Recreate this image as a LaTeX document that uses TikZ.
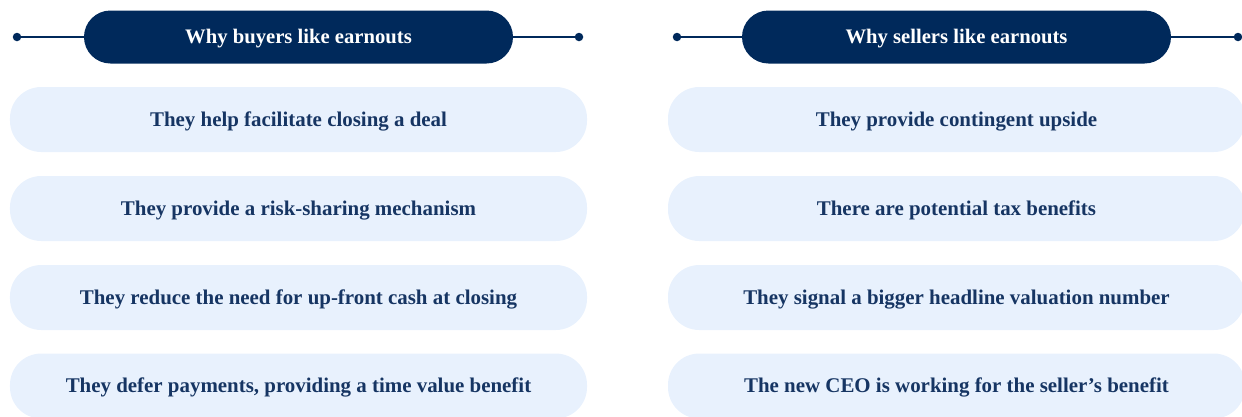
\documentclass[tikz,border=0pt]{standalone}
\usepackage{fontspec}
\setmainfont{Liberation Serif}
\usetikzlibrary{positioning}
\definecolor{blunotte}{HTML}{00295B}
\definecolor{azzurrino}{HTML}{E8F1FD}
\definecolor{inchiostro}{HTML}{163563}

\tikzset{
  testata/.style = {fill = blunotte, text = white, rounded corners = 10.6mm,
    minimum width = 171.6mm, minimum height = 21.2mm, inner sep = 0pt,
    text height = 15.5pt, text depth = 0pt,
    font = \fontsize{23.5}{28}\selectfont\bfseries},
  voce/.style = {fill = azzurrino, text = inchiostro, rounded corners = 12.5mm,
    minimum width = 230.8mm, minimum height = 26mm, inner sep = 0pt,
    text height = 15.7pt, text depth = 0pt,
    font = \fontsize{23.8}{28}\selectfont\bfseries},
  filo/.style = {blunotte, line width = 0.8mm}
}

\begin{document}
\begin{tikzpicture}[x = 0.4mm, y = -0.4mm]
    % Parametri
    \pgfmathsetmacro{\punto}{1.7}
    \pgfmathsetmacro{\xsx}{298.5}
    \pgfmathsetmacro{\xdx}{956.5}
    \pgfmathsetmacro{\yhead}{37}
    \useasboundingbox (0,0) rectangle (1242,416);
    % Estremi dei fili
    \coordinate (pA) at (17,\yhead);
    \coordinate (pB) at (579,\yhead);
    \coordinate (pC) at (677,\yhead);
    \coordinate (pD) at (1238,\yhead);
    % Testate
    \node[testata] (hB) at (\xsx,\yhead) {Why buyers like earnouts};
    \node[testata] (hS) at (\xdx,\yhead) {Why sellers like earnouts};
    \draw[filo] (pA) -- (hB.west);
    \draw[filo] (hB.east) -- (pB);
    \draw[filo] (pC) -- (hS.west);
    \draw[filo] (hS.east) -- (pD);
    \fill[blunotte] (pA) circle (\punto mm);
    \fill[blunotte] (pB) circle (\punto mm);
    \fill[blunotte] (pC) circle (\punto mm);
    \fill[blunotte] (pD) circle (\punto mm);
    % Acquirenti
    \node[voce] (b1) at (\xsx,119.5) {They help facilitate closing a deal};
    \node[voce] (b2) at (\xsx,208.5) {They provide a risk-sharing mechanism};
    \node[voce] (b3) at (\xsx,297.5) {They reduce the need for up-front cash at closing};
    \node[voce] (b4) at (\xsx,386) {They defer payments, providing a time value benefit};
    % Venditori
    \node[voce] (s1) at (\xdx,119.5) {They provide contingent upside};
    \node[voce] (s2) at (\xdx,208.5) {There are potential tax benefits};
    \node[voce] (s3) at (\xdx,297.5) {They signal a bigger headline valuation number};
    \node[voce] (s4) at (\xdx,386) {The new CEO is working for the seller’s benefit};
\end{tikzpicture}
\end{document}
